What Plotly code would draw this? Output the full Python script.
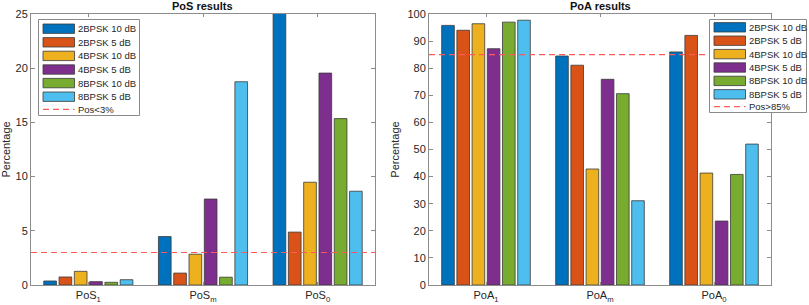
import plotly.graph_objects as go

series = ["2BPSK 10 dB", "2BPSK 5 dB", "4BPSK 10 dB", "4BPSK 5 dB", "8BPSK 10 dB", "8BPSK 5 dB"]
colors = ["#0072BD", "#D95319", "#EDB120", "#7E2F8E", "#77AC30", "#4DBEEE"]

pos_labels = ["PoS<sub>1</sub>", "PoS<sub>m</sub>", "PoS<sub>0</sub>"]
poa_labels = ["PoA<sub>1</sub>", "PoA<sub>m</sub>", "PoA<sub>0</sub>"]
groups = [1, 2, 3]

pos_values = [
    [0.37, 4.47, 25.6],
    [0.74, 1.10, 4.88],
    [1.26, 2.84, 9.48],
    [0.31, 7.93, 19.55],
    [0.25, 0.72, 15.35],
    [0.49, 18.75, 8.65],
]
poa_values = [
    [95.8, 84.5, 86.0],
    [94.0, 81.1, 92.1],
    [96.4, 42.8, 41.3],
    [87.2, 75.9, 23.6],
    [97.0, 70.6, 40.8],
    [97.7, 31.1, 52.0],
]
pos_threshold = 3
poa_threshold = 85
pos_line_name = "Pos<3%"
poa_line_name = "Pos>85%"

W, H = 809, 305
FONT = "Liberation Sans, Arial, sans-serif"
fig = go.Figure()
edge = dict(color="#3a3a3a", width=0.8)
dash_col = "#FF5A5A"
for name, col, vals in zip(series, colors, pos_values):
    fig.add_trace(go.Bar(x=groups, y=vals, name=name, marker=dict(color=col, line=edge),
                         xaxis="x", yaxis="y", showlegend=False))
fig.add_trace(go.Scatter(x=[0.5, 3.5], y=[pos_threshold] * 2, mode="lines", name=pos_line_name,
                         line=dict(color=dash_col, dash="6px,4px", width=1.2),
                         xaxis="x", yaxis="y", showlegend=False))
for name, col, vals in zip(series, colors, poa_values):
    fig.add_trace(go.Bar(x=groups, y=vals, name=name, marker=dict(color=col, line=edge),
                         xaxis="x2", yaxis="y2", showlegend=False))
fig.add_trace(go.Scatter(x=[0.5, 3.5], y=[poa_threshold] * 2, mode="lines", name=poa_line_name,
                         line=dict(color=dash_col, dash="6px,4px", width=1.2),
                         xaxis="x2", yaxis="y2", showlegend=False))

ytop, ybot = 1 - 14 / H, 1 - 285 / H
axcol = "#8c8c8c"
tickfont = dict(family=FONT, size=11, color="#262626")
common_x = dict(range=[0.5, 3.5], tickvals=groups, showline=True, linecolor=axcol, linewidth=1,
                mirror="ticks", ticks="inside", ticklen=3, tickcolor=axcol, showgrid=False,
                zeroline=False, tickfont=tickfont, automargin=False)
common_y = dict(showline=True, linecolor=axcol, linewidth=1, mirror="ticks", ticks="inside",
                ticklen=4, tickcolor=axcol, showgrid=False, zeroline=False, tickfont=tickfont,
                automargin=False,
                title=dict(text="Percentage", font=dict(family=FONT, size=11, color="#262626"),
                           standoff=5))

# custom MATLAB-style legends (box, wide swatches, tight rows)
shapes = []
annotations = []


def px(x):
    return x / W


def py(y):
    return 1 - y / H


def add_legend(x0, y0, x1, y1, row0, pitch, line_name):
    shapes.append(dict(type="rect", xref="paper", yref="paper", x0=px(x0), x1=px(x1),
                       y0=py(y0), y1=py(y1), fillcolor="white", line=dict(color="#8a8a8a", width=1),
                       layer="above"))
    sx0, sx1 = x0 + 4.5, x0 + 36
    for i, (name, col) in enumerate(zip(series, colors)):
        cy = row0 + i * pitch
        shapes.append(dict(type="rect", xref="paper", yref="paper", x0=px(sx0), x1=px(sx1),
                           y0=py(cy - 4.7), y1=py(cy + 4.7), fillcolor=col,
                           line=dict(color="#3a3a3a", width=0.8), layer="above"))
        annotations.append(dict(text=name, x=px(sx1 + 1.5), y=py(cy), xref="paper", yref="paper",
                                xanchor="left", yanchor="middle", showarrow=False,
                                font=dict(family=FONT, size=9.5, color="#262626")))
    cy = row0 + 6 * pitch - 1
    shapes.append(dict(type="line", xref="paper", yref="paper", x0=px(sx0), x1=px(sx1),
                       y0=py(cy), y1=py(cy), line=dict(color=dash_col, width=1.2, dash="6px,4px"),
                       layer="above"))
    annotations.append(dict(text=line_name, x=px(sx1 + 1.5), y=py(cy), xref="paper", yref="paper",
                            xanchor="left", yanchor="middle", showarrow=False,
                            font=dict(family=FONT, size=9.5, color="#262626")))


add_legend(38.5, 19.5, 139.5, 115.5, 28.7, 13.6, pos_line_name)
add_legend(709.5, 19.5, 806.5, 112.5, 27.3, 13.4, poa_line_name)

annotations += [
    dict(text="<b>PoS results</b>", x=px((31 + 375) / 2), y=py(6), xref="paper", yref="paper",
         xanchor="center", yanchor="middle", showarrow=False,
         font=dict(family=FONT, size=11, color="#111")),
    dict(text="<b>PoA results</b>", x=px((429 + 771) / 2), y=py(6), xref="paper", yref="paper",
         xanchor="center", yanchor="middle", showarrow=False,
         font=dict(family=FONT, size=11, color="#111")),
]

fig.update_layout(
    width=W, height=H, margin=dict(l=0, r=0, t=0, b=0, autoexpand=False),
    paper_bgcolor="white", plot_bgcolor="white",
    barmode="group", bargap=0.2, bargroupgap=0.17, showlegend=False,
    xaxis=dict(domain=[31 / W, 375 / W], ticktext=pos_labels, anchor="y", **common_x),
    yaxis=dict(domain=[ybot, ytop], range=[0, 25], dtick=5, anchor="x", **common_y),
    xaxis2=dict(domain=[429 / W, 771 / W], ticktext=poa_labels, anchor="y2", **common_x),
    yaxis2=dict(domain=[ybot, ytop], range=[0, 100], dtick=10, anchor="x2", **common_y),
    shapes=shapes,
    annotations=annotations,
)

fig.write_html("out.html", config={"displayModeBar": False},
               post_script="document.body.style.margin='0';document.body.style.overflow='hidden';")
